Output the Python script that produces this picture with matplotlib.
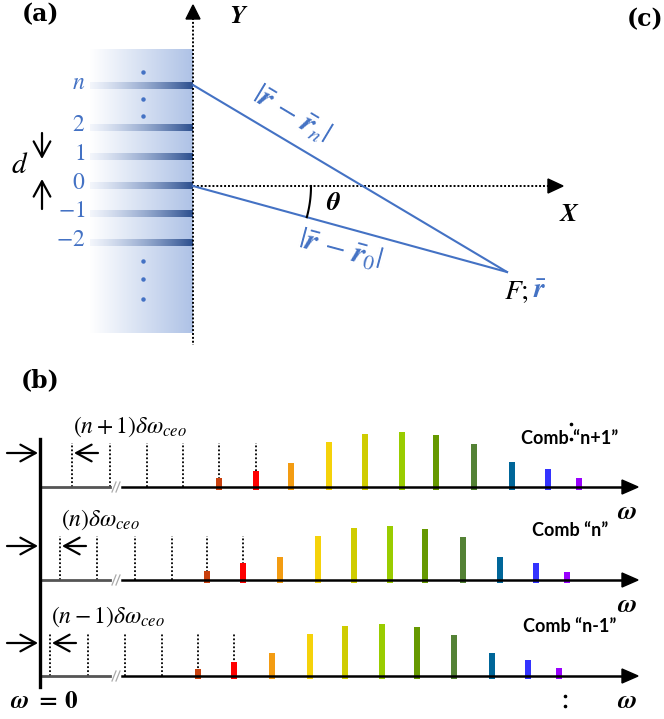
import numpy as np
import matplotlib
matplotlib.use('Agg')
import matplotlib.pyplot as plt
from matplotlib.colors import to_rgb

plt.rcParams['mathtext.fontset'] = 'stix'

BLUE = '#4472c4'

# ── panel (a): grating orders ───────────────────────────────────
order_labels = [r'$n$', r'$2$', r'$1$', r'$0$', r'$-1$', r'$-2$']
order_y = [86, 128, 157, 186, 214, 243]
dots_y = [72, 99, 116, 261, 279, 299]

# ── panel (b): combs ────────────────────────────────────────────
comb_names = ['Comb \u201cn+1\u201d', 'Comb \u201cn\u201d', 'Comb \u201cn-1\u201d']
ceo_labels = [r'$(n+1)\delta\omega_{ceo}$', r'$(n)\delta\omega_{ceo}$',
              r'$(n-1)\delta\omega_{ceo}$']
baselines = [487, 580, 676]
tooth_x = [
    [219, 256, 291, 329, 365, 402, 436, 474, 512, 548, 579],
    [207, 243, 280, 318, 354, 390, 425, 463, 500, 536, 567],
    [198, 234, 272, 310, 345, 382, 417, 454, 492, 528, 559],
]
tooth_h = [
    [9, 16, 24, 45, 53, 55, 52, 43, 25, 18, 9],
    [9, 17, 23, 44, 52, 54, 51, 43, 23, 17, 8],
    [7, 14, 23, 42, 50, 52, 49, 41, 23, 16, 8],
]
tooth_colors = ['#c9410e', '#ff0000', '#f39c12', '#f5d20a', '#cfcc00', '#99cc00',
                '#669900', '#548235', '#006699', '#3333ff', '#9900ff']
dotted_x = [
    [72, 110, 147, 183, 219, 256],
    [60, 97, 135, 172, 207, 243],
    [50, 88, 125, 162, 198, 234],
]
dotted_h = [44, 44, 43]

fig = plt.figure(figsize=(6.64, 7.19), dpi=100)
ax = fig.add_axes([0, 0, 1, 1])

ARROW = dict(arrowstyle='->, head_length=0.55, head_width=0.3', lw=1.6,
             mutation_scale=20, shrinkA=0, shrinkB=0, color='black')


def hgrad(c0, c1, a0, a1, n=256):
    r0, r1 = np.array(to_rgb(c0)), np.array(to_rgb(c1))
    t = np.linspace(0, 1, n)[None, :, None]
    rgb = r0 + (r1 - r0) * t
    a = (a0 + (a1 - a0) * np.linspace(0, 1, n))[None, :, None]
    return np.concatenate([rgb, a], axis=2)


# gradient slab
ax.imshow(hgrad('#ffffff', '#aec2e6', 1, 1), extent=(90, 193, 333, 49),
          aspect='auto', zorder=1, interpolation='bilinear')
# stripes
for lab, y in zip(order_labels, order_y):
    ax.imshow(hgrad('#c8d5ef', '#2c4f8e', 0.2, 1), extent=(90, 193, y + 3.5, y - 3.5),
              aspect='auto', zorder=2, interpolation='bilinear')
    ax.text(85, y - 4, lab, color=BLUE, fontsize=17, ha='right', va='center')
ax.plot([143] * len(dots_y), dots_y, 'o', color=BLUE, ms=2.2, zorder=3)

# Y axis
ax.plot([193, 193], [18, 345], color='black', ls=(0, (1, 1)), lw=1.4, zorder=4)
ax.fill([186, 200, 193], [19, 19, 5], color='black', zorder=4)
ax.text(239, 16, r'$\boldsymbol{Y}$', fontsize=19, ha='center', va='center')
# X axis
ax.plot([193, 550], [186, 186], color='black', ls=(0, (1, 1)), lw=1.4, zorder=4)
ax.fill([548, 548, 563], [179, 193, 186], color='black', zorder=4)
ax.text(569, 214, r'$\boldsymbol{X}$', fontsize=19, ha='center', va='center')

# d arrows
ax.annotate('', xy=(42, 159), xytext=(42, 133), arrowprops=ARROW)
ax.annotate('', xy=(42, 179), xytext=(42, 209), arrowprops=ARROW)
ax.text(20, 165, r'$d$', fontsize=21, ha='center', va='center')

# rays
F = (507, 272)
ax.plot([193, F[0]], [85, F[1]], color=BLUE, lw=1.5, zorder=5)
ax.plot([193, F[0]], [186, F[1]], color=BLUE, lw=1.5, zorder=5)
ang = np.linspace(0, np.arctan2(F[1] - 186, F[0] - 193), 30)
ax.plot(193 + 118 * np.cos(ang), 186 + 118 * np.sin(ang), color='black', lw=1.5, zorder=5)
ax.text(333, 203, r'$\boldsymbol{\theta}$', fontsize=19, ha='center', va='center')
ax.text(291, 114, r'$|\bar{\boldsymbol{r}}\,-\,\bar{\boldsymbol{r}}_n|$', color=BLUE,
        fontsize=22, ha='center', va='center', rotation=-31)
ax.text(340, 250, r'$|\bar{\boldsymbol{r}}\,-\,\bar{\boldsymbol{r}}_0|$', color=BLUE,
        fontsize=22, ha='center', va='center', rotation=-15)
ax.text(504, 291, r'$F;$', fontsize=20, ha='left', va='center')
ax.text(533, 290, r'$\bar{\boldsymbol{r}}$', fontsize=20, color=BLUE, ha='left', va='center')

# panel labels
for s, x, y in [('(a)', 40, 14), ('(b)', 40, 380), ('(c)', 645, 19)]:
    ax.text(x, y, s, fontsize=17, fontweight='bold', family='DejaVu Serif',
            ha='center', va='center')

# ── combs ───────────────────────────────────────────────────────
ax.plot([40, 40], [439, 687], color='black', lw=2.4, zorder=5)
for i, base in enumerate(baselines):
    ax.plot([41, 110], [base, base], color='#555555', lw=2.0, zorder=4)
    ax.plot([112, 116], [base + 5, base - 5], color='#aaaaaa', lw=0.9)
    ax.plot([116, 120], [base + 5, base - 5], color='#aaaaaa', lw=0.9)
    ax.plot([122, 624], [base, base], color='black', lw=1.8, zorder=4)
    ax.fill([622, 622, 638], [base - 7, base + 7, base], color='black', zorder=4)
    for x in dotted_x[i]:
        ax.plot([x, x], [base, base - dotted_h[i]], color='black',
                ls=(0, (1, 1.2)), lw=1.3, zorder=2)
    ax.bar(tooth_x[i], [-(h + 3) for h in tooth_h[i]], bottom=[base + 3] * len(tooth_h[i]),
           width=6.5, color=tooth_colors, zorder=3)
    ya = base - dotted_h[i] + 10
    ax.annotate('', xy=(38, ya), xytext=(7, ya), arrowprops=ARROW)
    x0 = dotted_x[i][0]
    ax.annotate('', xy=(x0 + 2, ya), xytext=(x0 + 26, ya), arrowprops=ARROW)
    ax.text(x0 + 1, base - dotted_h[i] - 16, ceo_labels[i], fontsize=17,
            ha='left', va='center')
    ax.text(570, base - 49, comb_names[i], fontsize=13, fontweight='bold',
            family='Lato', ha='center', va='center')
    ax.text(627, base + 25, r'$\boldsymbol{\omega}$', fontsize=19, ha='center', va='center')

ax.plot([571, 571], [424, 439], 'o', color='black', ms=1.6)
ax.plot([565, 565], [696, 706], 'o', color='black', ms=1.6)
ax.text(44, 701, r'$\boldsymbol{\omega\ =\ 0}$', fontsize=18, ha='center', va='center')

ax.set_xlim(0, 664)
ax.set_ylim(719, 0)
ax.axis('off')
fig.savefig('out.png', dpi=100, facecolor='white')
